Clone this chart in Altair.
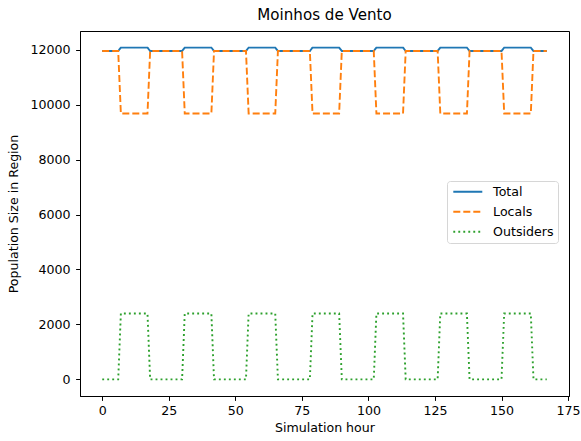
import altair as alt
import pandas as pd

# corner hours of the weekly pattern (lines are straight between them)
hours = [0, 6, 7, 17, 18, 30, 31, 41, 42, 54, 55, 65, 66, 78, 79, 89, 90,
         102, 103, 113, 114, 126, 127, 137, 138, 150, 151, 161, 162, 167]
total = [11950,
         11950, 12075, 12075, 11950,
         11950, 12075, 12075, 11950,
         11950, 12075, 12075, 11950,
         11950, 12075, 12075, 11950,
         11950, 12075, 12075, 11950,
         11950, 12075, 12075, 11950,
         11950, 12075, 12075, 11950,
         11950]
locals_ = [11950,
           11950, 9675, 9675, 11950,
           11950, 9675, 9675, 11950,
           11950, 9675, 9675, 11950,
           11950, 9675, 9675, 11950,
           11950, 9675, 9675, 11950,
           11950, 9675, 9675, 11950,
           11950, 9675, 9675, 11950,
           11950]
outsiders = [0,
             0, 2400, 2400, 0,
             0, 2400, 2400, 0,
             0, 2400, 2400, 0,
             0, 2400, 2400, 0,
             0, 2400, 2400, 0,
             0, 2400, 2400, 0,
             0, 2400, 2400, 0,
             0]
series_names = ["Total", "Locals", "Outsiders"]
series_colors = ["#1f77b4", "#ff7f0e", "#2ca02c"]
series_dashes = [[1, 0], [7.0, 3.0], [1.9, 3.1]]
x_ticks = [0, 25, 50, 75, 100, 125, 150, 175]
y_ticks = [0, 2000, 4000, 6000, 8000, 10000, 12000]

rows = []
for name, vals in zip(series_names, [total, locals_, outsiders]):
    for h, v in zip(hours, vals):
        rows.append({"hour": h, "value": v, "series": name})
df = pd.DataFrame(rows)

FONT = "DejaVu Sans"
FS = 12.6

axis_style = dict(grid=False, tickSize=4.4, format="d",
                  labelFont=FONT, titleFont=FONT,
                  labelFontSize=FS, titleFontSize=FS,
                  labelColor="black", titleColor="black",
                  domainColor="black", tickColor="black",
                  domainWidth=1, tickWidth=1,
                  titleFontWeight="normal", labelFlush=False)

legend = alt.Legend(orient="none", legendX=367, legendY=150)

chart = alt.Chart(df).mark_line(strokeWidth=1.9, strokeCap="butt").encode(
    x=alt.X("hour:Q", title="Simulation hour",
            scale=alt.Scale(domain=[-8.35, 175.35], nice=False, zero=False),
            axis=alt.Axis(values=x_ticks, labelPadding=4.0, titlePadding=4.5,
                          **axis_style)),
    y=alt.Y("value:Q", title="Population Size in Region",
            scale=alt.Scale(domain=[-604, 12679], nice=False, zero=False),
            axis=alt.Axis(values=y_ticks, labelPadding=5.5, titlePadding=10,
                          **axis_style)),
    color=alt.Color("series:N", title=None,
                    scale=alt.Scale(domain=series_names, range=series_colors),
                    legend=legend),
    strokeDash=alt.StrokeDash("series:N", title=None,
                              scale=alt.Scale(domain=series_names, range=series_dashes),
                              legend=legend),
    order=alt.Order("hour:Q"),
).properties(
    width=489, height=365,
    title=alt.TitleParams("Moinhos de Vento", fontSize=15.1, font=FONT,
                          fontWeight="normal", offset=7.5, color="black"),
    padding={"left": 80, "top": 31, "right": 12, "bottom": 45},
    autosize=alt.AutoSizeParams(type="none"),
).configure_view(
    stroke="black", strokeWidth=1
).configure_legend(
    labelFont=FONT, labelFontSize=FS, labelColor="black",
    symbolType="M-2.9,0H2.9", symbolSize=100, symbolStrokeWidth=1.9,
    symbolFillColor="transparent",
    strokeColor="#d6d6d6", fillColor="white", cornerRadius=3,
    padding=4.5, rowPadding=7, symbolOffset=10, labelOffset=19, titlePadding=0
)

chart.save("out.html", embed_options={"renderer": "svg", "actions": False})
